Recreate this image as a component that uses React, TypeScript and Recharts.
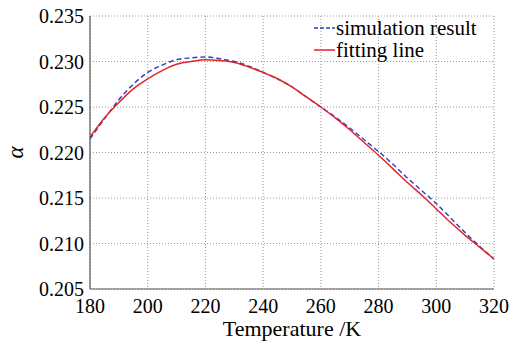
import { LineChart, Line, XAxis, YAxis, CartesianGrid, Legend } from "recharts";

// temperature (K)
const temperature = [
  180, 185, 190, 195, 200, 205, 210, 215, 220, 225, 230, 235, 240, 245, 250,
  255, 260, 265, 270, 275, 280, 285, 290, 295, 300, 305, 310, 315, 320,
];

// simulation result
const simulation = [
  0.2215, 0.2237, 0.2258, 0.2275, 0.2288, 0.2296, 0.2302, 0.2304, 0.2305, 0.2303,
  0.23, 0.2295, 0.2288, 0.2281, 0.2272, 0.2261, 0.225, 0.2239, 0.2227, 0.2214,
  0.2201, 0.2187, 0.2172, 0.2158, 0.2144, 0.2128, 0.2112, 0.2097, 0.2083,
];

// fitting line
const fitting = [
  0.2217, 0.2238, 0.2255, 0.227, 0.2281, 0.229, 0.2297, 0.23, 0.2302, 0.2301,
  0.2299, 0.2294, 0.2288, 0.2281, 0.2272, 0.2261, 0.225, 0.2238, 0.2225, 0.2211,
  0.2197, 0.2182, 0.2167, 0.2153, 0.2138, 0.2123, 0.2109, 0.2096, 0.2083,
];

const xTicks = [180, 200, 220, 240, 260, 280, 300, 320];
const yTicks = [0.205, 0.21, 0.215, 0.22, 0.225, 0.23, 0.235];

const seriesNames = ["simulation result", "fitting line"];
const BLUE = "#2f3db8";
const RED = "#e2252a";
const FONT = "Liberation Serif";

const data = temperature.map((t, i) => ({
  t,
  sim: simulation[i],
  fit: fitting[i],
}));

const LegendBox = () => (
  <div style={{ fontFamily: FONT, fontSize: 21, lineHeight: "22px", color: "#000" }}>
    <div style={{ display: "flex", alignItems: "center", height: 22 }}>
      <svg width={23} height={22}>
        <line x1={1} y1={11} x2={22} y2={11} stroke={BLUE} strokeWidth={1.3} strokeDasharray="4 2" />
      </svg>
      <span>{seriesNames[0]}</span>
    </div>
    <div style={{ display: "flex", alignItems: "center", height: 22 }}>
      <svg width={23} height={22}>
        <line x1={1} y1={11} x2={22} y2={11} stroke={RED} strokeWidth={1.5} />
      </svg>
      <span>{seriesNames[1]}</span>
    </div>
  </div>
);

const AlphaLabel = (props: any) => {
  const vb = props.viewBox;
  const cx = vb.x + 15;
  const cy = vb.y + vb.height / 2;
  return (
    <text
      x={cx}
      y={cy}
      transform={`rotate(-90 ${cx} ${cy})`}
      textAnchor="middle"
      dominantBaseline="central"
      fontFamily={FONT}
      fontStyle="italic"
      fontSize={23}
      fill="#000"
    >
      α
    </text>
  );
};

export default function App() {
  const tickStyle = { fontFamily: FONT, fontSize: 20, fill: "#000" };
  return (
    <div style={{ position: "absolute", left: 0, top: 0, width: 521, height: 342, background: "#fff", fontFamily: FONT }}>
      <LineChart
        width={521}
        height={342}
        data={data}
        margin={{ top: 16, right: 27, bottom: 0, left: 0 }}
      >
        <CartesianGrid stroke="#9a9a9a" strokeDasharray="1 2" strokeWidth={1} />
        <XAxis
          dataKey="t"
          type="number"
          domain={[180, 320]}
          ticks={xTicks}
          height={53}
          tickSize={0}
          tickMargin={10}
          tick={tickStyle}
          axisLine={{ stroke: "#555", strokeWidth: 1.2 }}
          label={{
            value: "Temperature /K",
            position: "insideBottom",
            offset: 6,
            fontFamily: FONT,
            fontSize: 22,
            fill: "#000",
          }}
        />
        <XAxis
          xAxisId="top"
          dataKey="t"
          type="number"
          domain={[180, 320]}
          orientation="top"
          height={0}
          tick={false}
          tickLine={false}
          axisLine={{ stroke: "#555", strokeWidth: 1.2 }}
        />
        <YAxis
          domain={[0.205, 0.235]}
          ticks={yTicks}
          width={90}
          tickSize={0}
          tickMargin={6}
          tick={tickStyle}
          tickFormatter={(v: number) => v.toFixed(3)}
          axisLine={{ stroke: "#555", strokeWidth: 1.2 }}
          label={{ content: AlphaLabel }}
        />
        <YAxis
          yAxisId="right"
          orientation="right"
          domain={[0.205, 0.235]}
          width={0}
          tick={false}
          tickLine={false}
          axisLine={{ stroke: "#555", strokeWidth: 1.2 }}
        />
        <Legend
          layout="vertical"
          align="center"
          verticalAlign="middle"
          wrapperStyle={{ top: 17, left: 313, width: "auto" }}
          content={() => <LegendBox />}
        />
        <Line
          type="monotone"
          dataKey="sim"
          name={seriesNames[0]}
          stroke={BLUE}
          strokeWidth={1.4}
          strokeDasharray="5 3"
          dot={false}
          isAnimationActive={false}
        />
        <Line
          type="monotone"
          dataKey="fit"
          name={seriesNames[1]}
          stroke={RED}
          strokeWidth={1.5}
          dot={false}
          isAnimationActive={false}
        />
      </LineChart>
    </div>
  );
}
